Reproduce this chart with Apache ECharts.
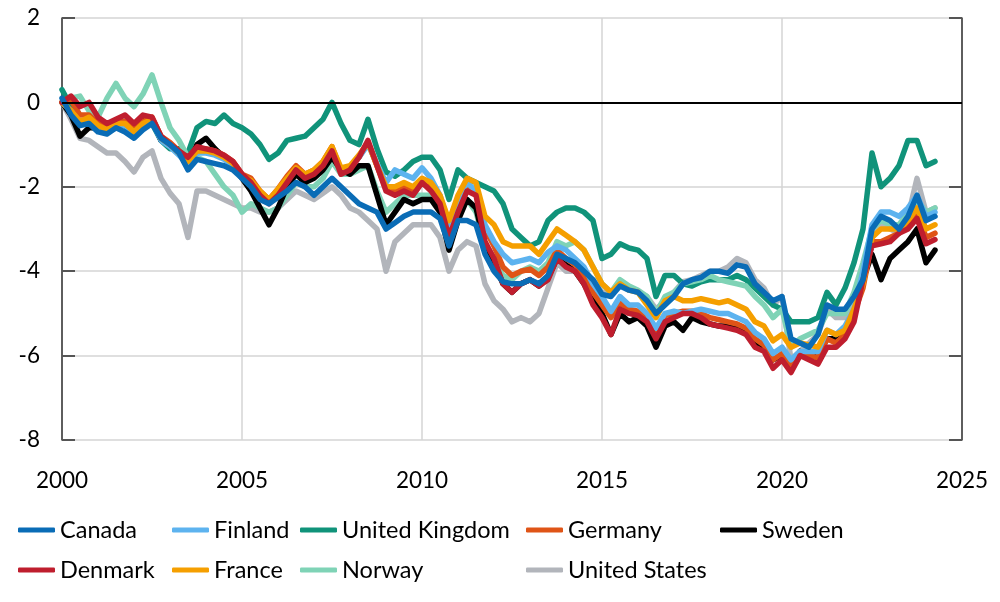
<!DOCTYPE html>
<html><head><meta charset="utf-8">
<script src="https://cdn.jsdelivr.net/npm/echarts@6/dist/echarts.min.js"></script>
<style>html,body{margin:0;padding:0;background:#fff}#c{width:1000px;height:602px}</style>
</head><body><div id="c"></div>
<script>
// quarterly observation dates (decimal years)
const dates = Array.from({length: 98}, (_, i) => 2000 + i * 0.25);
const xTicks = [2000, 2005, 2010, 2015, 2020, 2025];
const yTicks = [-8, -6, -4, -2, 0, 2];

const canada = [
 0.1,-0.3,-0.55,-0.5, -0.7,-0.75,-0.6,-0.7, -0.85,-0.65,-0.5,-0.85, -1.0,-1.2,-1.6,-1.35,
 -1.4,-1.45,-1.5,-1.6, -1.8,-2.0,-2.3,-2.4, -2.25,-2.1,-1.9,-2.0, -2.2,-2.0,-1.8,-2.0,
 -2.2,-2.4,-2.5,-2.6, -3.0,-2.85,-2.7,-2.6, -2.6,-2.6,-2.75,-3.4, -2.8,-2.8,-2.9,-3.6,
 -4.0,-4.25,-4.3,-4.3, -4.2,-4.3,-4.1,-3.6, -3.7,-3.8,-4.0,-4.2, -4.55,-4.6,-4.35,-4.45,
 -4.5,-4.7,-5.0,-4.8, -4.6,-4.3,-4.2,-4.15, -4.0,-4.0,-4.05,-3.85, -3.9,-4.3,-4.5,-4.7,
 -4.6,-5.6,-5.7,-5.8, -5.5,-4.8,-4.9,-4.9, -4.6,-4.2,-3.0,-2.7, -2.8,-3.0,-2.7,-2.2, -2.8,-2.7];
const finland = [
 0.0,-0.2,-0.5,-0.4, -0.6,-0.7,-0.55,-0.55, -0.75,-0.55,-0.45,-0.9, -1.05,-1.25,-1.45,-1.2,
 -1.2,-1.25,-1.35,-1.5, -1.8,-1.9,-2.15,-2.35, -2.1,-1.85,-1.6,-1.75, -1.65,-1.45,-1.1,-1.6,
 -1.55,-1.3,-1.0,-1.45, -1.9,-1.6,-1.7,-1.8, -1.55,-1.8,-2.2,-2.9, -2.3,-1.9,-2.1,-2.9,
 -3.3,-3.6,-3.8,-3.75, -3.7,-3.8,-3.55,-3.4, -3.5,-3.7,-3.9,-4.3, -4.6,-4.95,-4.6,-4.8,
 -4.8,-5.0,-5.35,-5.0, -4.95,-5.0,-4.95,-4.9, -4.95,-5.0,-5.0,-5.1, -5.2,-5.45,-5.6,-5.95,
 -5.8,-6.1,-5.9,-5.9, -5.9,-5.4,-5.5,-5.3, -4.9,-4.0,-2.9,-2.6, -2.6,-2.7,-2.5,-2.2, -2.7,-2.6];
const unitedKingdom = [
 0.3,-0.1,-0.5,-0.4, -0.6,-0.6,-0.5,-0.55, -0.8,-0.5,-0.5,-0.9, -1.1,-1.1,-1.2,-0.6,
 -0.45,-0.5,-0.3,-0.5, -0.6,-0.75,-1.0,-1.35, -1.2,-0.9,-0.85,-0.8, -0.6,-0.4,0.0,-0.5,
 -0.9,-1.0,-0.4,-1.1, -1.65,-1.75,-1.6,-1.4, -1.3,-1.3,-1.6,-2.3, -1.6,-1.8,-1.9,-2.0,
 -2.1,-2.4,-3.0,-3.2, -3.4,-3.3,-2.8,-2.6, -2.5,-2.5,-2.6,-2.8, -3.7,-3.6,-3.35,-3.45,
 -3.5,-3.7,-4.6,-4.1, -4.1,-4.3,-4.35,-4.25, -4.2,-4.2,-4.2,-4.1, -4.2,-4.4,-4.6,-4.8,
 -4.9,-5.2,-5.2,-5.2, -5.1,-4.5,-4.8,-4.4, -3.8,-3.0,-1.2,-2.0, -1.8,-1.5,-0.9,-0.9, -1.5,-1.4];
const germany = [
 0.0,0.05,-0.3,-0.3, -0.5,-0.6,-0.45,-0.45, -0.65,-0.45,-0.35,-0.8, -0.95,-1.15,-1.35,-1.1,
 -1.1,-1.15,-1.25,-1.4, -1.7,-1.8,-2.1,-2.3, -2.05,-1.75,-1.5,-1.7, -1.6,-1.4,-1.05,-1.6,
 -1.55,-1.3,-0.95,-1.5, -2.05,-2.1,-2.0,-2.1, -1.85,-2.0,-2.3,-3.0, -2.4,-2.0,-2.1,-3.0,
 -3.4,-3.9,-4.1,-4.0, -3.95,-4.1,-3.9,-3.5, -3.7,-3.85,-4.1,-4.5, -4.8,-5.1,-4.75,-4.9,
 -4.95,-5.1,-5.45,-5.05, -5.0,-4.95,-4.95,-5.0, -5.1,-5.15,-5.2,-5.25, -5.35,-5.6,-5.75,-6.1,
 -5.95,-6.25,-5.95,-6.0, -6.05,-5.6,-5.7,-5.5, -5.0,-4.4,-3.3,-3.3, -3.2,-3.1,-2.9,-2.6, -3.2,-3.1];
const sweden = [
 0.0,-0.3,-0.8,-0.6, -0.6,-0.7,-0.6,-0.45, -0.65,-0.4,-0.4,-0.9, -1.0,-1.2,-1.5,-1.0,
 -0.85,-1.1,-1.3,-1.5, -1.8,-2.1,-2.5,-2.9, -2.5,-2.0,-1.7,-1.9, -1.8,-1.6,-1.3,-1.6,
 -1.7,-1.5,-1.5,-2.2, -2.9,-2.6,-2.3,-2.4, -2.3,-2.3,-2.6,-3.5, -2.8,-2.3,-2.5,-3.4,
 -3.8,-4.3,-4.5,-4.3, -4.2,-4.35,-4.15,-3.7, -3.85,-4.0,-4.3,-4.7, -5.0,-5.5,-5.0,-5.2,
 -5.1,-5.3,-5.8,-5.3, -5.2,-5.4,-5.1,-5.2, -5.25,-5.3,-5.3,-5.35, -5.45,-5.7,-5.8,-6.1,
 -6.0,-6.2,-5.9,-6.0, -6.0,-5.6,-5.6,-5.5, -5.0,-4.2,-3.6,-4.2, -3.7,-3.5,-3.3,-3.0, -3.8,-3.5];
const denmark = [
 0.0,0.15,-0.1,0.0, -0.35,-0.5,-0.4,-0.3, -0.5,-0.3,-0.35,-0.8, -1.0,-1.15,-1.3,-1.05,
 -1.1,-1.15,-1.25,-1.4, -1.7,-1.9,-2.2,-2.4, -2.2,-1.9,-1.6,-1.8, -1.7,-1.5,-1.15,-1.7,
 -1.6,-1.3,-0.9,-1.5, -2.1,-2.2,-2.1,-2.2, -1.9,-2.1,-2.4,-3.2, -2.6,-2.1,-2.2,-3.3,
 -3.7,-4.3,-4.5,-4.3, -4.2,-4.35,-4.2,-3.7, -3.9,-4.0,-4.3,-4.8, -5.1,-5.5,-4.9,-5.0,
 -5.05,-5.2,-5.6,-5.2, -5.1,-5.0,-5.0,-5.1, -5.25,-5.3,-5.35,-5.4, -5.5,-5.8,-5.9,-6.3,
 -6.1,-6.4,-6.0,-6.1, -6.2,-5.8,-5.8,-5.6, -5.2,-4.2,-3.4,-3.35, -3.3,-3.1,-3.0,-2.75, -3.35,-3.25];
const france = [
 0.0,-0.2,-0.45,-0.35, -0.55,-0.65,-0.5,-0.5, -0.7,-0.5,-0.4,-0.85, -1.0,-1.2,-1.4,-1.15,
 -1.15,-1.2,-1.3,-1.45, -1.75,-1.85,-2.1,-2.3, -2.05,-1.8,-1.55,-1.7, -1.6,-1.4,-1.05,-1.55,
 -1.5,-1.25,-0.95,-1.5, -2.0,-2.0,-1.9,-2.0, -1.8,-1.9,-2.2,-2.8, -2.2,-1.8,-1.9,-2.7,
 -2.9,-3.3,-3.4,-3.4, -3.4,-3.6,-3.3,-3.0, -3.15,-3.3,-3.5,-3.9, -4.3,-4.5,-4.3,-4.45,
 -4.5,-4.8,-5.1,-4.7, -4.6,-4.7,-4.7,-4.65, -4.7,-4.75,-4.7,-4.8, -4.9,-5.2,-5.3,-5.65,
 -5.5,-5.8,-5.7,-5.75, -5.8,-5.4,-5.5,-5.4, -4.9,-4.3,-3.2,-3.0, -3.0,-3.0,-2.8,-2.5, -3.0,-2.9];
const norway = [
 0.0,0.1,0.15,-0.2, -0.35,0.1,0.45,0.1, -0.1,0.2,0.65,0.0, -0.6,-0.9,-1.3,-1.3,
 -1.4,-1.7,-2.0,-2.2, -2.6,-2.4,-2.5,-2.6, -2.5,-2.2,-1.9,-2.0, -2.0,-1.8,-1.4,-1.7,
 -1.7,-1.6,-1.5,-2.1, -2.6,-2.4,-2.2,-2.2, -2.2,-2.2,-2.5,-3.2, -2.5,-2.3,-2.6,-3.4,
 -3.7,-4.1,-4.2,-4.0, -3.9,-4.0,-3.8,-3.3, -3.4,-3.3,-3.5,-3.9, -4.3,-4.5,-4.2,-4.35,
 -4.45,-4.6,-5.0,-4.6, -4.5,-4.3,-4.25,-4.2, -4.1,-4.2,-4.25,-4.3, -4.35,-4.6,-4.8,-5.1,
 -4.9,-5.8,-5.6,-5.5, -5.4,-5.0,-5.0,-5.0, -4.5,-3.8,-3.0,-2.8, -2.9,-2.9,-2.6,-2.3, -2.6,-2.5];
const unitedStates = [
 0.0,-0.4,-0.85,-0.9, -1.05,-1.2,-1.2,-1.4, -1.65,-1.3,-1.15,-1.8, -2.15,-2.4,-3.2,-2.1,
 -2.1,-2.2,-2.3,-2.4, -2.5,-2.5,-2.6,-2.6, -2.5,-2.3,-2.1,-2.2, -2.3,-2.15,-2.0,-2.2,
 -2.5,-2.6,-2.8,-3.0, -4.0,-3.3,-3.1,-2.9, -2.9,-2.9,-3.2,-4.0, -3.5,-3.3,-3.4,-4.3,
 -4.7,-4.9,-5.2,-5.1, -5.2,-5.0,-4.4,-3.8, -4.0,-4.0,-4.1,-4.2, -4.5,-4.5,-4.3,-4.4,
 -4.5,-4.6,-4.9,-4.7, -4.5,-4.25,-4.2,-4.1, -4.0,-4.0,-3.9,-3.7, -3.8,-4.2,-4.4,-4.8,
 -4.6,-6.1,-5.9,-5.7, -5.5,-4.9,-5.1,-5.1, -4.7,-4.3,-3.2,-2.9, -3.0,-3.1,-2.7,-1.8, -2.6,-2.5];

const seriesDefs = [
  {name: 'Canada', data: canada, color: '#0a6cb6'},
  {name: 'Finland', data: finland, color: '#5db3ef'},
  {name: 'United Kingdom', data: unitedKingdom, color: '#10937a'},
  {name: 'Germany', data: germany, color: '#df5417'},
  {name: 'Sweden', data: sweden, color: '#000000'},
  {name: 'Denmark', data: denmark, color: '#bf1e2e'},
  {name: 'France', data: france, color: '#f59f00'},
  {name: 'Norway', data: norway, color: '#7fd3b6'},
  {name: 'United States', data: unitedStates, color: '#b2b5bb'}
];
// drawing order, bottom to top
const drawOrder = ['United States', 'United Kingdom', 'Norway', 'Sweden', 'Germany', 'Finland', 'France', 'Denmark', 'Canada'];

const legendPos = {
  'Canada': [13, 0], 'Finland': [167, 0], 'United Kingdom': [295, 0], 'Germany': [521, 0], 'Sweden': [715, 0],
  'Denmark': [13, 1], 'France': [167, 1], 'Norway': [295, 1], 'United States': [521, 1]
};

const font = 'Lato, "Open Sans", sans-serif';
const series = drawOrder.map((n, k) => {
  const d = seriesDefs.find(s => s.name === n);
  const s = {
    name: d.name, type: 'line', showSymbol: false, symbol: 'none',
    data: dates.map((t, i) => [t, d.data[i]]),
    lineStyle: {color: d.color, width: 5.5, cap: 'round', join: 'round'},
    itemStyle: {color: d.color},
    z: 3 + k * 0.01, emphasis: {disabled: true}
  };
  if (k === 0) {
    s.markLine = {silent: true, symbol: ['none', 'none'], label: {show: false},
      lineStyle: {color: '#000', width: 2, type: 'solid'}, data: [{yAxis: 0}]};
  }
  return s;
});

const legends = seriesDefs.map(d => ({
  data: [d.name], left: legendPos[d.name][0], top: 513 + legendPos[d.name][1] * 40,
  icon: 'roundRect', itemWidth: 37, itemHeight: 5, itemGap: 0,
  textStyle: {fontFamily: font, fontSize: 23.5, color: '#000', padding: [0, 0, 0, 0]},
  selectedMode: false
}));

const chart = echarts.init(document.getElementById('c'), null, {renderer: 'canvas'});
chart.setOption({
  animation: false,
  backgroundColor: '#fff',
  grid: {left: 62, right: 38, top: 18, bottom: 162, containLabel: false},
  legend: legends,
  xAxis: {
    type: 'value', min: xTicks[0], max: xTicks[xTicks.length - 1], interval: 5,
    axisLine: {show: false}, axisTick: {show: false},
    axisLabel: {fontFamily: font, fontSize: 22.5, color: '#000', margin: 29, formatter: v => String(v)},
    splitLine: {show: true, lineStyle: {color: '#d4d4d4', width: 1.5}}
  },
  yAxis: [{
    type: 'value', min: yTicks[0], max: yTicks[yTicks.length - 1], interval: 2,
    axisLine: {show: true, lineStyle: {color: '#333', width: 1.5}},
    axisTick: {show: true, inside: true, length: 13, lineStyle: {color: '#555', width: 2}},
    axisLabel: {fontFamily: font, fontSize: 22.5, color: '#000', margin: 22},
    splitLine: {show: true, lineStyle: {color: '#d4d4d4', width: 1.5}}
  }, {
    type: 'value', position: 'right', min: yTicks[0], max: yTicks[yTicks.length - 1], interval: 2,
    axisLine: {show: true, lineStyle: {color: '#333', width: 1.5}},
    axisTick: {show: true, inside: true, length: 13, lineStyle: {color: '#555', width: 2}},
    axisLabel: {show: false}, splitLine: {show: false}
  }],
  series: series
});
</script></body></html>
